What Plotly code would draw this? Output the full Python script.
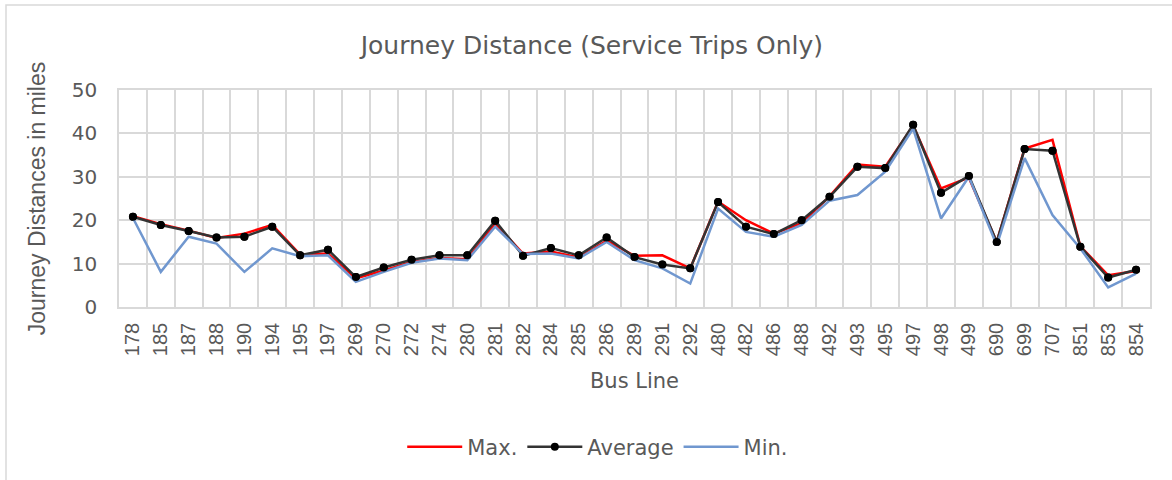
import plotly.graph_objects as go

bus_lines = ["178", "185", "187", "188", "190", "194", "195", "197", "269", "270",
             "272", "274", "280", "281", "282", "284", "285", "286", "289", "291",
             "292", "480", "482", "486", "488", "492", "493", "495", "497", "498",
             "499", "690", "699", "707", "851", "853", "854"]

max_vals = [20.9, 19.1, 17.6, 15.9, 16.9, 18.9, 12.1, 12.3, 6.6, 8.4,
            10.4, 11.3, 11.0, 19.2, 12.3, 12.8, 11.4, 15.3, 11.8, 11.9,
            8.9, 24.3, 20.0, 16.9, 19.3, 25.5, 32.8, 32.3, 41.8, 27.3,
            29.8, 15.0, 36.5, 38.5, 14.0, 7.3, 8.3]

avg_vals = [20.8, 18.9, 17.5, 16.0, 16.2, 18.5, 11.9, 13.2, 6.9, 9.1,
            10.9, 11.9, 11.9, 19.9, 11.8, 13.6, 11.9, 16.0, 11.5, 9.8,
            8.9, 24.2, 18.5, 16.8, 20.0, 25.4, 32.3, 32.0, 42.0, 26.3,
            30.2, 15.0, 36.4, 36.0, 13.9, 6.8, 8.6]

min_vals = [20.5, 8.1, 16.2, 14.6, 8.1, 13.5, 11.7, 11.9, 5.8, 8.1,
            10.2, 11.2, 10.8, 18.5, 12.2, 12.3, 11.2, 15.0, 10.8, 8.9,
            5.4, 22.7, 17.3, 16.2, 18.9, 24.5, 25.8, 31.2, 41.1, 20.4,
            30.0, 14.2, 34.3, 21.2, 13.5, 4.5, 7.7]

ARIAL = "Liberation Sans, Arial, sans-serif"
WIDE = "DejaVu Sans, Verdana, sans-serif"
GRAY = "#595959"
GRID = "#d9d9d9"

fig = go.Figure()
fig.add_trace(go.Scatter(x=bus_lines, y=max_vals, mode="lines", name="Max.",
                         line=dict(color="#ff0000", width=2.5)))
fig.add_trace(go.Scatter(x=bus_lines, y=avg_vals, mode="lines+markers", name="Average",
                         line=dict(color="#333333", width=2.5),
                         marker=dict(color="#000000", size=8)))
fig.add_trace(go.Scatter(x=bus_lines, y=min_vals, mode="lines", name="Min.",
                         line=dict(color="#7097cf", width=2.5)))
fig.add_trace(go.Scatter(x=bus_lines, y=avg_vals, mode="markers", showlegend=False,
                         hoverinfo="skip",
                         marker=dict(color="#000000", size=8)))

fig.update_layout(
    width=1172, height=480,
    margin=dict(l=119, r=22, t=90, b=173),
    paper_bgcolor="white", plot_bgcolor="white",
    font=dict(family=ARIAL, color=GRAY, size=20),
    title=dict(text="Journey Distance (Service Trips Only)", x=0.505, xref="container",
               xanchor="center", y=1 - 45 / 480, yref="container", yanchor="middle",
               font=dict(family=WIDE, size=25, color=GRAY)),
    showlegend=True,
    legend=dict(orientation="h", x=0.51, xref="container", xanchor="center",
                y=1 - 447 / 480, yref="container", yanchor="middle",
                font=dict(family=WIDE, size=21, color=GRAY),
                traceorder="normal", itemwidth=55, tracegroupgap=0),
    xaxis=dict(
        type="category", tickson="boundaries", showgrid=True, gridcolor=GRID,
        gridwidth=1.5, showline=True, linecolor=GRID, linewidth=1.5, mirror=True,
        ticks="", tickangle=-90, tickfont=dict(family=ARIAL, size=20, color=GRAY),
        ticklabelstandoff=6,
        title=dict(text="Bus Line", font=dict(family=WIDE, size=21, color=GRAY), standoff=18),
        range=[-0.5, len(bus_lines) - 0.5],
    ),
    yaxis=dict(
        range=[0, 50], dtick=10, showgrid=True, gridcolor=GRID, gridwidth=1.5,
        showline=True, linecolor=GRID, linewidth=1.5, mirror=True, zeroline=False,
        ticks="", tickfont=dict(family=WIDE, size=20, color=GRAY), ticklabelstandoff=16,
        title=dict(text="Journey Distances in miles", font=dict(family=ARIAL, size=23, color=GRAY),
                   standoff=20),
    ),
    shapes=[dict(type="rect", xref="paper", yref="paper",
                 x0=(6 - 119) / 1031, x1=(1180 - 119) / 1031,
                 y0=-(490 - 307) / 217, y1=1 + (90 - 5) / 217,
                 line=dict(color="#d9d9d9", width=1.5), fillcolor="rgba(0,0,0,0)",
                 layer="below")],
)

fig.write_html("out.html", config={"displayModeBar": False},
               post_script="document.body.style.margin='0px';")
